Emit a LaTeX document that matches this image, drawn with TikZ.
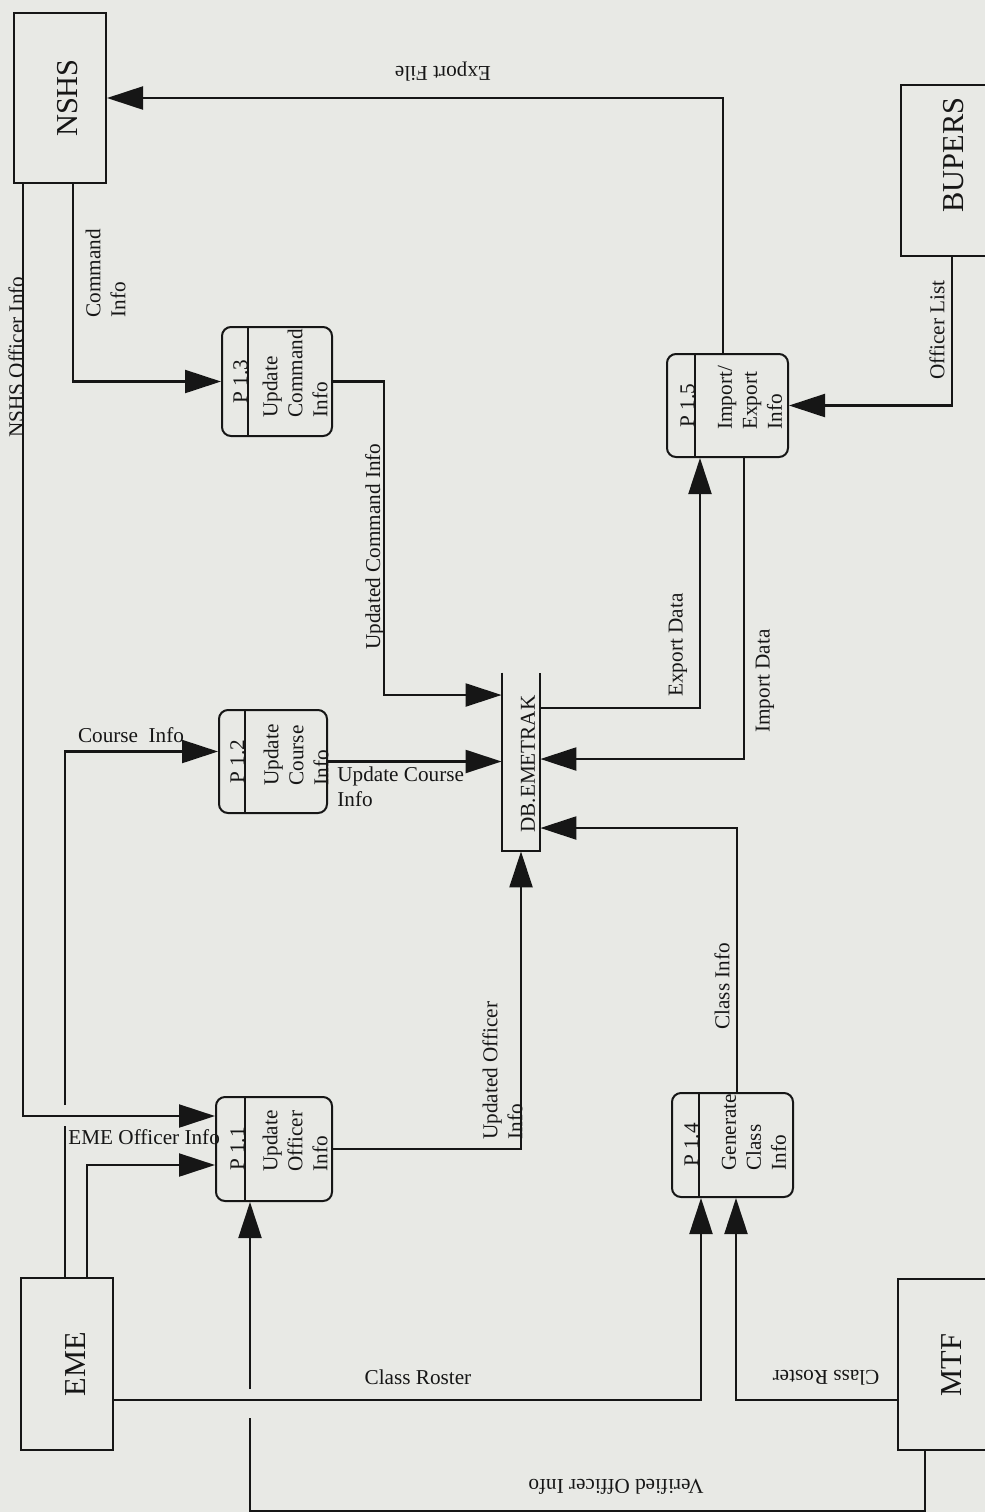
\documentclass[tikz,border=0pt]{standalone}
\usepackage{fontspec}
\setmainfont{Liberation Serif}
\usetikzlibrary{arrows.meta,calc}
\definecolor{paper}{RGB}{232,233,229}
\definecolor{ink}{RGB}{22,22,22}
\tikzset{
  ent/.style={draw=ink, line width=1pt, inner sep=0pt},
  proc/.style={draw=ink, line width=1pt, rounded corners=4.5pt, inner sep=0pt},
  flow/.style={draw=ink, line width=1.1pt, -{Triangle[length=18pt,width=11.5pt]}},
  link/.style={draw=ink, line width=1.1pt},
  lbl/.style={inner sep=0pt, text=ink, font=\fontsize{10.6}{12.5}\selectfont},
  vlbl/.style={lbl, rotate=90, align=left, anchor=west},
  big/.style={inner sep=0pt, text=ink, rotate=90, font=\fontsize{15.2}{18}\selectfont},
}
\begin{document}
\begin{tikzpicture}[x=0.5pt,y=0.5pt,yscale=-1]
\useasboundingbox (0,0) rectangle (985,1512);
\clip (0,0) rectangle (985,1512);
\fill[paper] (0,0) rectangle (985,1512);

%Shape: external entities
\node[ent, minimum width=46pt, minimum height=85pt] (nshs) at (60,98) {};
\node[ent, minimum width=51pt, minimum height=85.5pt] (bupers) at (952,170.5) {};
\node[ent, minimum width=46pt, minimum height=86pt] (eme) at (67,1364) {};
\node[ent, minimum width=52pt, minimum height=85.5pt] (mtf) at (950,1364.5) {};

%Shape: processes
\node[proc, minimum width=58pt, minimum height=52pt] (p11) at (274,1149) {};
\node[proc, minimum width=54pt, minimum height=51.5pt] (p12) at (273,761.5) {};
\node[proc, minimum width=55pt, minimum height=54.5pt] (p13) at (277,381.5) {};
\node[proc, minimum width=60.5pt, minimum height=52pt] (p14) at (732.5,1145) {};
\node[proc, minimum width=60.5pt, minimum height=51.5pt] (p15) at (727.5,405.5) {};
\foreach \p/\d in {p11/30,p12/27,p13/27,p14/28,p15/29}
  \draw[link, line width=1pt] ($(\p.north west)+(\d,0)$) -- ($(\p.south west)+(\d,0)$);

%Shape: data store
\node[inner sep=0pt, minimum width=19pt, minimum height=89pt] (db) at (521,762) {};
\draw[link, line width=1pt] (db.north west) -- (db.south west) -- (db.south east) -- (db.north east);

%Flows from NSHS
\draw[flow] ($(nshs.south)+(13,0)$) |- (p13.west);
\coordinate (nsin) at ($(p11.west)+(0,-33)$);
% Course Info, broken where it crosses the NSHS line
\draw[link] ($(eme.north)+(-2,0)$) -- ($(eme.north |- nsin)+(-2,10)$);
\draw[flow] ($(eme.north |- nsin)+(-2,-11)$) |- ($(p12.west)+(0,-10)$);
\draw[flow] ($(nshs.south)+(-37,0)$) |- (nsin);

%Flows from EME and MTF
\draw[flow] ($(eme.north)+(20,0)$) |- ($(p11.west)+(0,16)$);
\draw[flow] ($(eme.east)+(0,36)$) -| ($(p14.south)+(-31.5,0)$);
\draw[flow] ($(mtf.west)+(0,35.5)$) -| ($(p14.south)+(3.5,0)$);
\coordinate (vcorner) at ($(p11.south)+(-24,309)$);
\draw[link] ($(mtf.south)+(-25,0)$) |- (vcorner) -- ($(vcorner)+(0,-93)$);
\draw[flow] ($(vcorner)+(0,-122)$) -- ($(p11.south)+(-24,0)$);

%Flows into the data store
\draw[flow] (p11.east) -| (db.south);
\draw[flow] (p12.east) -- (p12.east -| db.west);
\draw[flow] (p13.east) -| ($(db.west)+(-118,-67)$) -- ($(db.west)+(0,-67)$);
\draw[flow] ($(p14.north)+(4.5,0)$) |- ($(db.east)+(0,66)$);
\draw[flow] ($(p15.south)+(16.5,0)$) |- ($(db.east)+(0,-3)$);
\draw[flow] ($(db.east)+(0,-54)$) -| ($(p15.south)+(-27.5,0)$);

%Flows of P 1.5
\draw[flow] ($(p15.north)+(-4.5,0)$) |- (nshs.east);
\draw[flow] (bupers.south) |- (p15.east);

% Text Node: entities and store
\node[big] (nshs-t) at (68,98) {NSHS};
\node[big] (bupers-t) at (954,155) {BUPERS};
\node[big] (eme-t) at (76,1364) {EME};
\node[big] (mtf-t) at (952,1365) {MTF};
\node[lbl, rotate=90] (db-t) at (528,764) {DB.EMETRAK};

% Text Node: processes
\node[lbl, rotate=90, anchor=south] (p11-id) at (245,1149) {P 1.1};
\node[lbl, rotate=90, anchor=south] (p12-id) at (245,761.5) {P 1.2};
\node[lbl, rotate=90, anchor=south] (p13-id) at (248,381.5) {P 1.3};
\node[lbl, rotate=90, anchor=south] (p14-id) at (699,1145) {P 1.4};
\node[lbl, rotate=90, anchor=south] (p15-id) at (695,405.5) {P 1.5};
\node[vlbl] (p11-t) at (295,1172) {Update\\Officer\\Info};
\node[vlbl] (p12-t) at (296,786) {Update\\Course\\Info};
\node[vlbl] (p13-t) at (295,418) {Update\\Command\\Info};
\node[vlbl] (p14-t) at (754,1171) {Generate\\Class\\Info};
\node[vlbl] (p15-t) at (750,430) {Import/\\Export\\Info};

% Text Node: flow labels
\node[vlbl] (cmd-l) at (105.5,318) {Command\\Info};
\node[vlbl] (nso-l) at (16,438) {NSHS Officer Info};
\node[lbl] (crs-l) at (131,735) {Course~ Info};
\node[lbl, anchor=west] (emo-l) at (68,1137) {EME Officer Info};
\node[lbl] (ros-l) at (418,1377) {Class Roster};
\node[lbl, rotate=180] (mros-l) at (826,1378) {Class Roster};
\node[lbl, rotate=180] (ver-l) at (616,1487) {Verified Officer Info};
\node[vlbl] (uoi-l) at (502.5,1140) {Updated Officer\\Info};
\node[lbl, align=left, anchor=north west] (uci-l) at (337,766) {Update Course\\Info};
\node[vlbl] (ucm-l) at (375,650) {Updated Command Info};
\node[vlbl] (cls-l) at (722,1030) {Class Info};
\node[vlbl] (exd-l) at (678,697) {Export Data};
\node[vlbl] (imd-l) at (765,733) {Import Data};
\node[lbl, rotate=180] (exf-l) at (443,72) {Export File};
\node[vlbl] (ofl-l) at (937,380) {Officer List};
\end{tikzpicture}
\end{document}
